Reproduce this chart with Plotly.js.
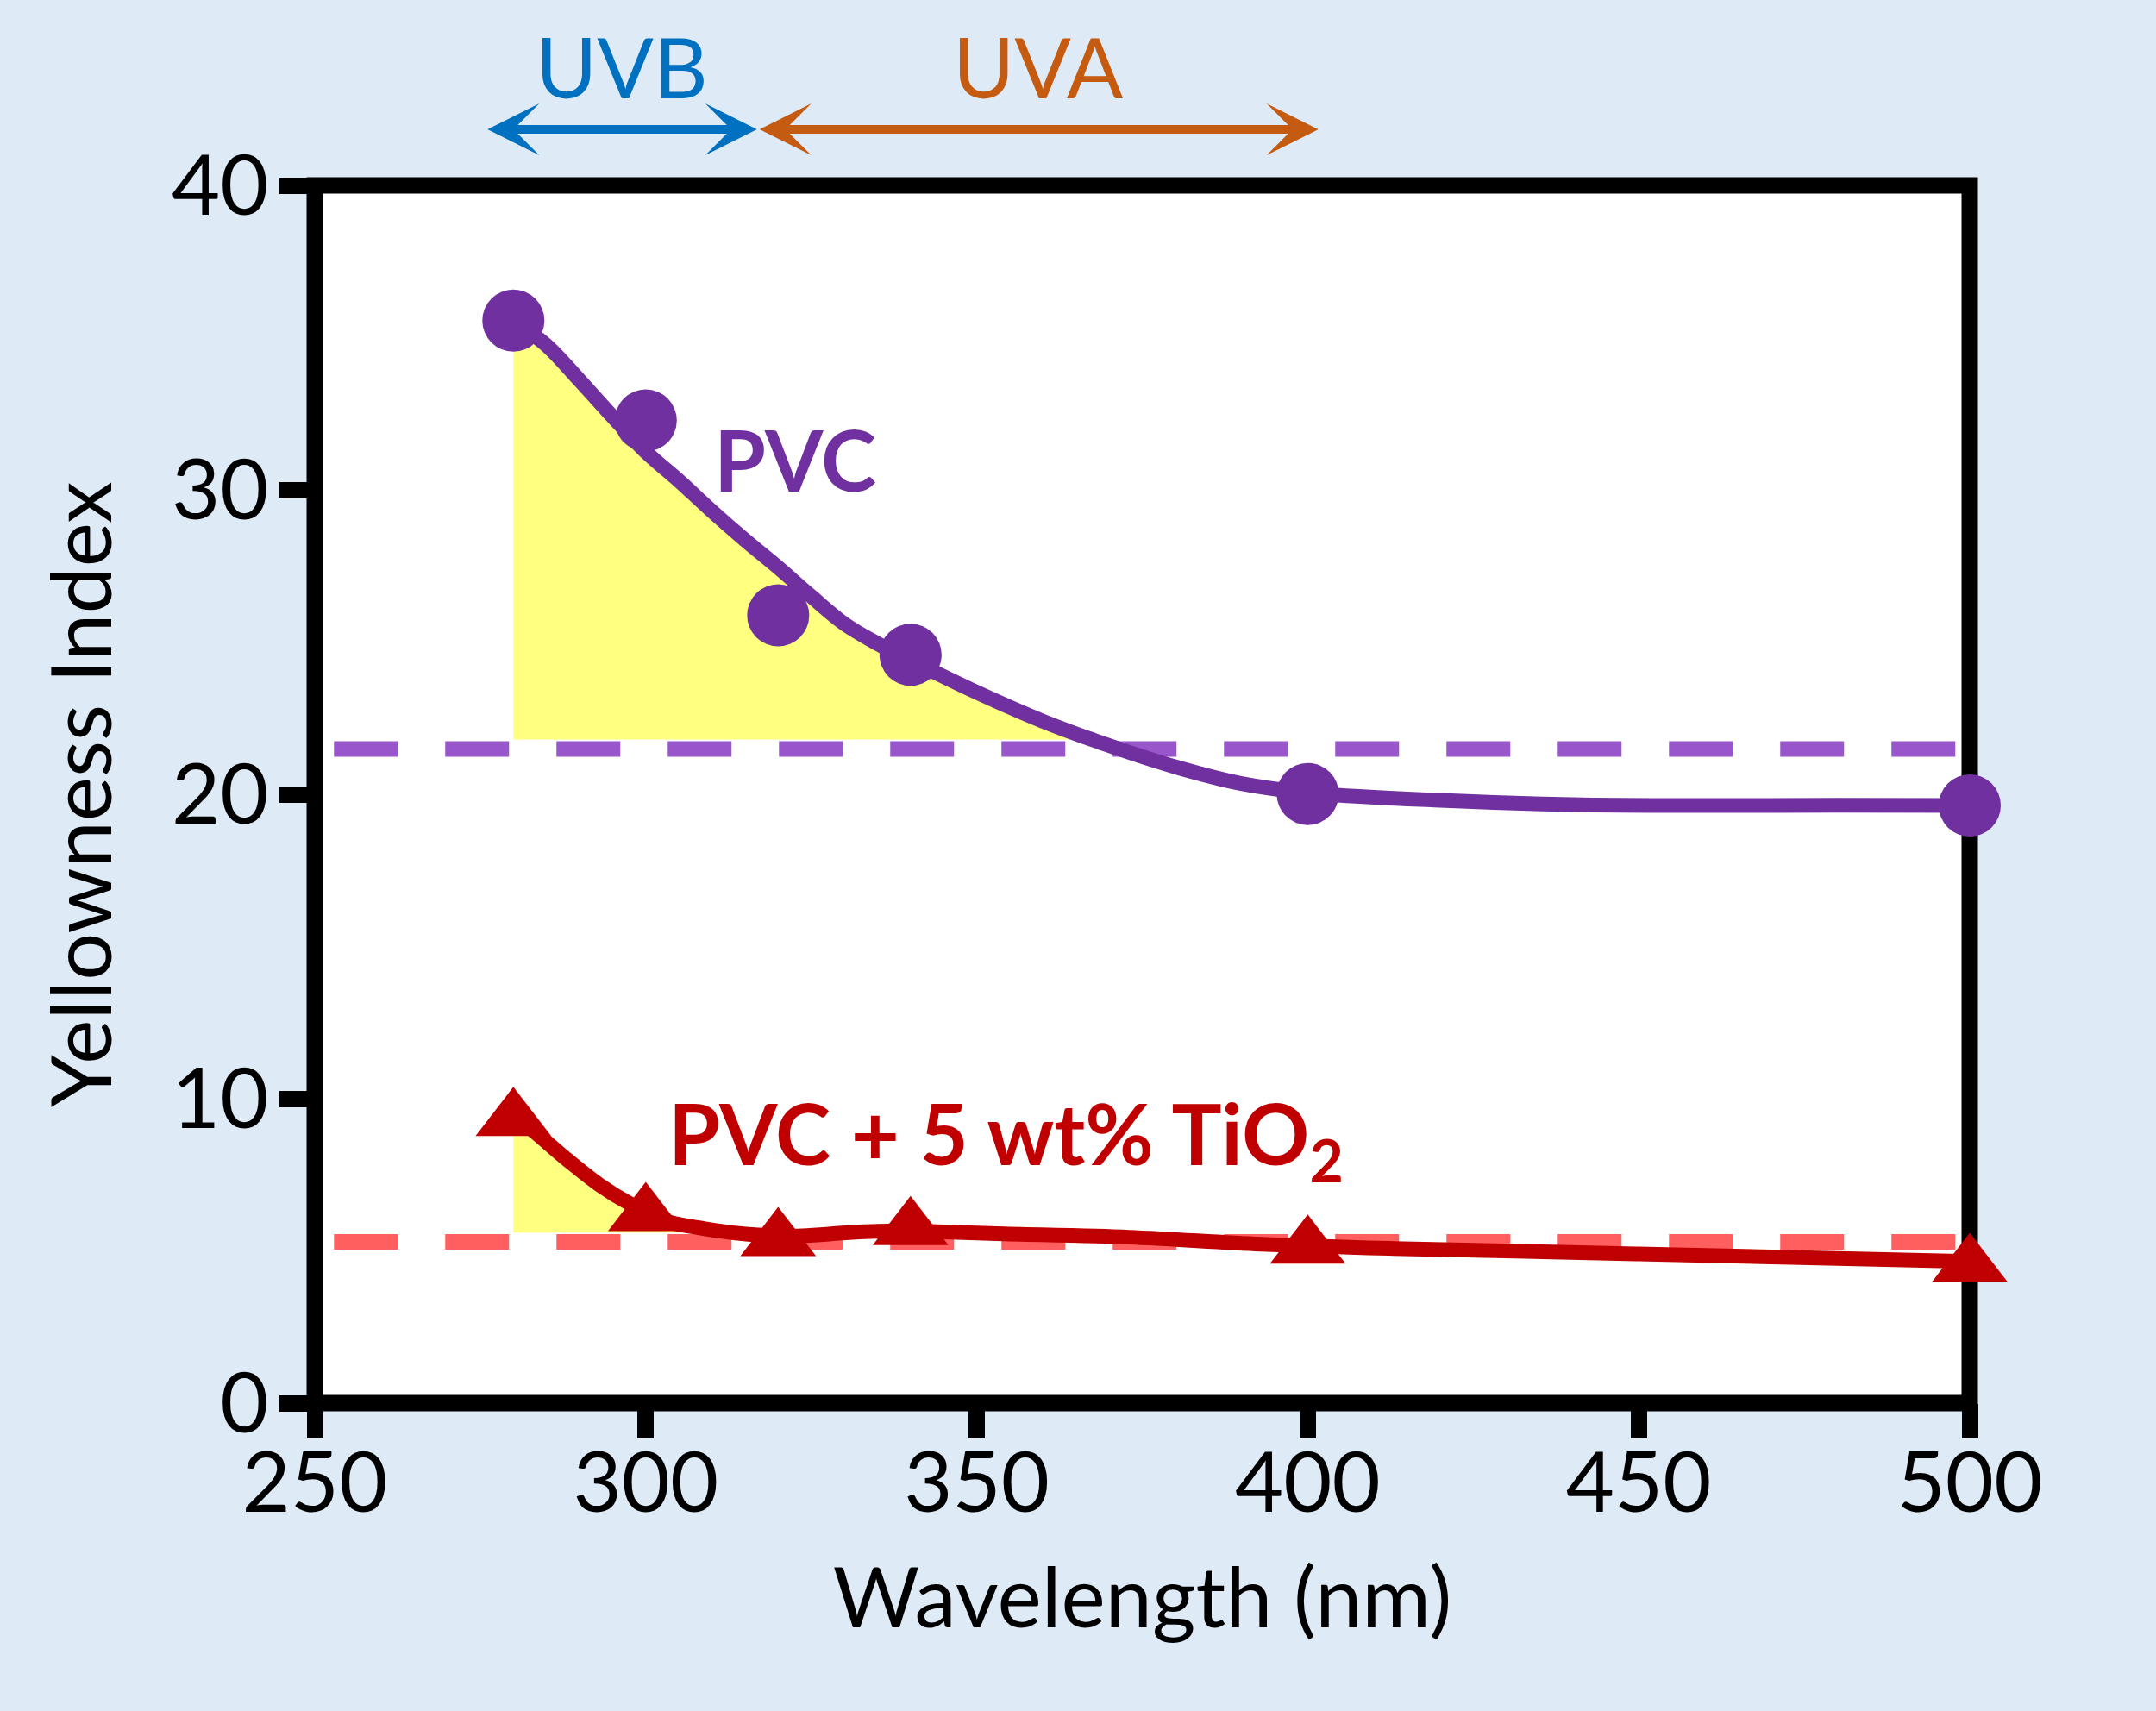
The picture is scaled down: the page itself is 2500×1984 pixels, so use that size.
<!DOCTYPE html>
<html>
<head>
<meta charset="utf-8">
<script src="https://cdn.plot.ly/plotly-3.0.1.min.js"></script>
<style>body{margin:0;background:#DEEAF6}</style>
</head>
<body>
<div id="chart" style="width:2500px;height:1984px"></div>
<script>
var wavelengths = [280, 300, 320, 340, 400, 500];
var pvcYI = [35.56, 32.28, 25.88, 24.58, 20.01, 19.63];
var tio2YI = [9.31, 6.19, 5.37, 5.73, 5.12, 4.52];

// smooth fit curves as drawn in the figure
var pvcFitX = [280, 285, 290, 295, 300, 305, 310, 315, 320, 325, 330, 335, 340, 350, 360, 370, 380, 390, 400, 420, 440, 460, 480, 500];
var pvcFitY = [35.56, 34.75, 33.6, 32.4, 31.25, 30.3, 29.3, 28.35, 27.45, 26.5, 25.6, 24.95, 24.4, 23.35, 22.4, 21.6, 20.9, 20.35, 20.05, 19.8, 19.66, 19.63, 19.64, 19.63];
var tio2FitX = [280, 283, 288, 293, 298, 303, 308, 313, 318, 323, 328, 333, 338, 343, 353, 373, 393, 413, 450, 500];
var tio2FitY = [9.45, 8.95, 8.02, 7.17, 6.5, 5.98, 5.76, 5.6, 5.51, 5.49, 5.56, 5.63, 5.66, 5.64, 5.57, 5.45, 5.22, 5.08, 4.9, 4.65];

// unexposed reference levels (dashed) and where the shading stops
var pvcRef = 21.49;
var tio2Ref = 5.3;
var refSpan = [252.9, 498];
var pvcShadeBase = 21.8;
var tio2ShadeBase = 5.6;

// UV bands shown above the plot (y in paper units, above the frame)
var uvbBand = [275.9, 316.8];
var uvaBand = [317.0, 401.6];
var bandY = 1.046;
var bandLabelY = 1.098;

var purple = '#7030A0', red = '#C00000';
var font = 'Lato, "Open Sans", sans-serif';

// area between a fit curve and a base level, up to where the curve crosses it
function shade(xs, ys, base) {
  var px = [], py = [];
  for (var i = 0; i < xs.length; i++) {
    if (ys[i] >= base) { px.push(xs[i]); py.push(ys[i]); continue; }
    var t = (ys[i - 1] - base) / (ys[i - 1] - ys[i]);
    px.push(xs[i - 1] + t * (xs[i] - xs[i - 1]));
    py.push(base);
    break;
  }
  px.push(xs[0]); py.push(base);
  return {x: px, y: py};
}

var s1 = shade(pvcFitX, pvcFitY, pvcShadeBase);
var s2 = shade(tio2FitX, tio2FitY, tio2ShadeBase);

var data = [
  {x: s1.x, y: s1.y, mode: 'lines', fill: 'toself', fillcolor: '#FFFF80', line: {width: 0}, hoverinfo: 'skip'},
  {x: s2.x, y: s2.y, mode: 'lines', fill: 'toself', fillcolor: '#FFFF80', line: {width: 0}, hoverinfo: 'skip'},
  {x: refSpan, y: [pvcRef, pvcRef], mode: 'lines', line: {color: '#9955CC', width: 18, dash: '74px,55px'}},
  {x: refSpan, y: [tio2Ref, tio2Ref], mode: 'lines', line: {color: '#FF5F5F', width: 18, dash: '74px,55px'}},
  {x: pvcFitX, y: pvcFitY, mode: 'lines', line: {color: purple, width: 17, shape: 'spline'}},
  {x: tio2FitX, y: tio2FitY, mode: 'lines', line: {color: red, width: 17, shape: 'spline'}},
  {x: wavelengths, y: pvcYI, mode: 'markers', name: 'PVC', cliponaxis: false,
   marker: {symbol: 'circle', size: 72, color: purple}},
  {x: wavelengths, y: tio2YI, mode: 'markers', name: 'PVC + 5 wt% TiO2', cliponaxis: false,
   marker: {symbol: 'triangle-up', size: 76, color: red}}
];

var axisStyle = {
  showline: false, ticks: 'outside', ticklen: 40, tickwidth: 19, tickcolor: 'black',
  showgrid: false, zeroline: false,
  tickfont: {family: font, size: 97, color: 'black'}
};

function bandArrow(band, color) {
  return {x: band[1], y: bandY, ax: band[0], ay: 0, xref: 'x', yref: 'paper', axref: 'x', ayref: 'pixel',
    text: '', showarrow: true, arrowside: 'end+start', arrowhead: 3, startarrowhead: 3,
    arrowsize: 1.0, startarrowsize: 1.0, arrowwidth: 10, arrowcolor: color};
}

function bandLabel(band, text, color) {
  return {x: (band[0] + band[1]) / 2, y: bandLabelY, xref: 'x', yref: 'paper', yanchor: 'middle',
    text: text, showarrow: false, font: {family: font, size: 97, color: color}};
}

var layout = {
  width: 2500, height: 1984,
  paper_bgcolor: '#DEEAF6', plot_bgcolor: 'white',
  margin: {l: 365, r: 216, t: 215, b: 357, pad: 0},
  showlegend: false,
  xaxis: Object.assign({}, axisStyle, {
    range: [250, 500], tickvals: [250, 300, 350, 400, 450, 500], ticklabelstandoff: -31,
    title: {text: 'Wavelength (nm)', font: {family: font, size: 97, color: 'black'}, standoff: 45}
  }),
  yaxis: Object.assign({}, axisStyle, {
    range: [0, 40], tickvals: [0, 10, 20, 30, 40], ticklabelstandoff: -7,
    title: {text: 'Yellowness Index', font: {family: font, size: 97, color: 'black'}, standoff: 37}
  }),
  shapes: [
    {type: 'rect', xref: 'paper', yref: 'paper', x0: 0, x1: 1, y0: 0, y1: 1, layer: 'between',
     line: {color: 'black', width: 19}, fillcolor: 'rgba(0,0,0,0)'}
  ],
  annotations: [
    bandArrow(uvbBand, '#0070C0'),
    bandArrow(uvaBand, '#C55A11'),
    bandLabel(uvbBand, 'UVB', '#0070C0'),
    bandLabel(uvaBand, 'UVA', '#C55A11'),
    {x: 322.6, y: 31.0, xref: 'x', yref: 'y', text: '<b>PVC</b>', showarrow: false,
     font: {family: font, size: 97, color: purple}},
    {x: 303.2, y: 8.7, xref: 'x', yref: 'y', xanchor: 'left', text: '<b>PVC + 5 wt% TiO<sub>2</sub></b>', showarrow: false,
     font: {family: font, size: 97, color: red}}
  ]
};

Plotly.newPlot('chart', data, layout, {displayModeBar: false, staticPlot: true});
</script>
</body>
</html>
